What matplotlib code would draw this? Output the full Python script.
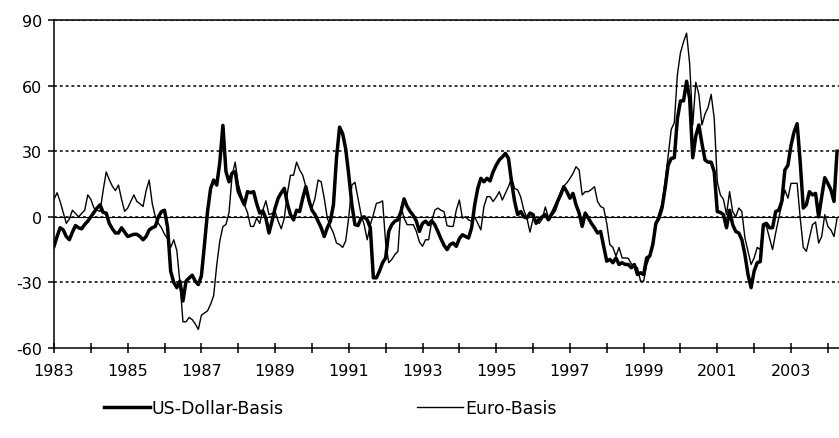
import numpy as np
import pandas as pd
import matplotlib
matplotlib.use("Agg")
import matplotlib.pyplot as plt

plt.rcParams["font.family"] = ["DejaVu Sans"]
plt.rcParams["axes.unicode_minus"] = False

# monthly values, Jan 1983 .. Apr 2004 (one row per year)
us_dollar_basis = [
    -13.5, -9, -5, -6, -9, -10.5, -7, -4, -5, -5.5, -3.5, -2,          # 1983
    0, 2, 4, 5.5, 2, 1.7, -3, -5.5, -7.4, -7.4, -5, -7,                # 1984
    -9, -8.5, -8, -8, -9, -10.5, -9, -6, -5, -4.4, 0, 2.4,             # 1985
    3, -5, -25, -30, -32.4, -29.4, -38.5, -29.4, -28, -26.7, -29.4, -31,  # 1986
    -27, -12.7, 2.4, 13, 16.8, 14.5, 25, 41.8, 20.6, 16, 20, 20.6,     # 1987
    11.5, 8.5, 5.5, 11.5, 11, 11.5, 6, 1.7, 2.7, -0.6, -7.4, -2,       # 1988
    4, 8.5, 11, 13, 6, 1, -1.4, 3, 2.4, 8.5, 13.8, 7.7,                # 1989
    3, 1, -2, -5, -9, -5, -2, 5.5, 27, 41, 38, 31,                     # 1990
    19, 5.5, -3.6, -4, -0.6, 0, -1.4, -5, -27.9, -27.9, -24.8, -21,    # 1991
    -18.8, -6.7, -3.6, -2, -1.4, 2.4, 8.2, 4.7, 2.4, 0.6, -2, -6.7,    # 1992
    -3, -2, -3.6, -1.8, -3.6, -6.7, -10, -13, -15, -12.7, -12, -13.5,  # 1993
    -10, -8.2, -9, -9.7, -5, 5.5, 13, 17.6, 16, 17.6, 16.4, 20.6,      # 1994
    23.6, 26, 27.4, 29, 26.7, 16, 7, 1, 2.4, 0, -0.6, 1.7,             # 1995
    1, -3, -1, 0, 1, -1.4, 1, 3, 7, 10, 13.8, 11.5,                    # 1996
    8.5, 10.7, 5.5, 1.7, -4.4, 1.7, -0.6, -3, -5, -7.4, -6.7, -13.5,   # 1997
    -20.3, -19.5, -21, -18.8, -21.8, -21, -21.8, -21.8, -23.3, -21.8, -26.4, -25.6,  # 1998
    -26.4, -18.8, -18, -12.7, -3, -0.6, 4, 13, 23.6, 26.7, 27, 44.8,   # 1999
    53, 53, 62, 54, 27, 37, 42, 33.5, 26, 25, 25, 20.6,                # 2000
    2.4, 2, 1, -5, 3, -3.6, -6.7, -7.4, -10.5, -17.3, -26.4, -32.4,    # 2001
    -24.8, -21, -20.5, -3.6, -3, -5, -5, 2.4, 3, 7, 21.4, 23.6,        # 2002
    32.7, 38.8, 42.6, 25, 4, 5.5, 11.5, 10, 10.7, 0, 9.2, 17.9,        # 2003
    15.3, 12.3, 7, 30,                                                 # 2004
]

euro_basis = [
    8, 11, 7, 2, -3, -1, 3, 1.5, 0, 1.5, 3, 10,                        # 1983
    8, 4, 3, 2.5, 12, 20.5, 17, 14, 12, 14.5, 8, 2.5,                  # 1984
    4, 7, 10, 7, 6, 4.7, 12, 16.8, 6, 0, -3, -5,                       # 1985
    -8, -10, -14, -10.5, -15.5, -30, -48, -48, -46, -47, -49, -51.5,   # 1986
    -45, -44, -43, -40, -36, -22, -11, -4.5, -3.5, 2, 19, 25,          # 1987
    15, 10, 5.5, 2, -4.4, -4.4, -0.6, -3, 3, 7.3, 1, 1.5,              # 1988
    2.4, -2, -5.5, -0.6, 10.7, 19, 19, 25, 21.4, 19, 13.8, 6,          # 1989
    4, 8.5, 16.8, 16, 8.5, -0.6, -4.4, -7.4, -12, -12.7, -14, -11,     # 1990
    0, 14.5, 15.8, 8.5, 1, -3.6, -10.5, -3.6, 1, 6.2, 6.5, 7.3,        # 1991
    -12, -21, -19.5, -17.3, -15.8, 4.7, -0.6, -3.6, -3.6, -3.6, -6.7, -11.5,  # 1992
    -13.5, -10.5, -10.5, -2, 3, 4, 3, 2.4, -4, -4.4, -4.4, 3,          # 1993
    7.7, -0.6, 0, -1.4, -2, 0, -3, -6, 4.7, 9.2, 9.2, 7,               # 1994
    9, 11.5, 7.7, 10.7, 13.8, 17.6, 13, 12.3, 9, 3, -0.6, -7,          # 1995
    -1, -2, -3, -1, 4.5, -0.5, 2, 5, 8, 11.5, 14, 15.5,                # 1996
    17.5, 19.8, 22.9, 21.4, 10, 11.5, 11.5, 12.5, 13.8, 7, 4.7, 4,     # 1997
    -3, -12.7, -14, -18, -14, -18.8, -18.8, -19, -21.5, -22.5, -23.3, -29.4,  # 1998
    -29.5, -22, -18, -12, -3, 1.5, 6, 16, 28, 40, 43, 65,              # 1999
    75, 80, 84, 70, 42, 61.5, 56, 42, 47, 50, 56, 45,                  # 2000
    16, 10, 8, 1, 11.5, 2.4, 0, 4, 2.4, -9.7, -15.8, -21.8,            # 2001
    -18.8, -14, -15, -3.6, -4.4, -9.7, -15, -7.4, -0.6, 5.5, 12.3, 8.5,  # 2002
    15.3, 15.3, 15.3, -0.6, -14, -15.8, -9.7, -3.6, -2.4, -12, -9, 1,  # 2003
    -4.4, -6, -9, -0.6,                                                # 2004
]

years = list(range(1983, 2005))
label_years = [str(y) if (y - 1983) % 2 == 0 else "" for y in years]
y_ticks = [-60, -30, 0, 30, 60, 90]

# time axis in fractional years
t = 1983 + np.arange(len(us_dollar_basis)) / 12.0

fig = plt.figure(figsize=(8.39, 4.39), dpi=100)
ax = fig.add_axes([54 / 839, 1 - 349 / 439, 1 - 54 / 839, (349 - 21) / 439])

for v in y_ticks[1:]:
    ax.axhline(v, color="black", lw=1.1, ls=(0, (1.9, 1.9)), zorder=1)
ax.axhline(0, color="black", lw=0.8, zorder=1)

ax.plot(t, us_dollar_basis, color="black", lw=2.5, label="US-Dollar-Basis", zorder=3)
ax.plot(t, euro_basis, color="black", lw=1.0, label="Euro-Basis", zorder=2)

ax.set_xlim(1983, 1983 + (839 - 54) / 36.85)
ax.set_ylim(-60, 90)
ax.set_yticks(y_ticks)
ax.set_xticks(years)
ax.set_xticklabels(label_years)

ax.spines["right"].set_visible(False)
for s in ["left", "bottom", "top"]:
    ax.spines[s].set_linewidth(1.1)
ax.tick_params(axis="y", direction="out", length=4.5, width=1.1, labelsize=11.5, pad=4)
ax.tick_params(axis="x", direction="inout", length=7, width=1.1, labelsize=11.5, pad=7.5)

fig.legend(loc="center left", bbox_to_anchor=(95 / 839, 1 - 409 / 439), ncol=2, frameon=False,
           borderpad=0, fontsize=12.5, handlelength=2.65, handletextpad=0.1, columnspacing=7.7)

fig.savefig("out.png", dpi=100)
